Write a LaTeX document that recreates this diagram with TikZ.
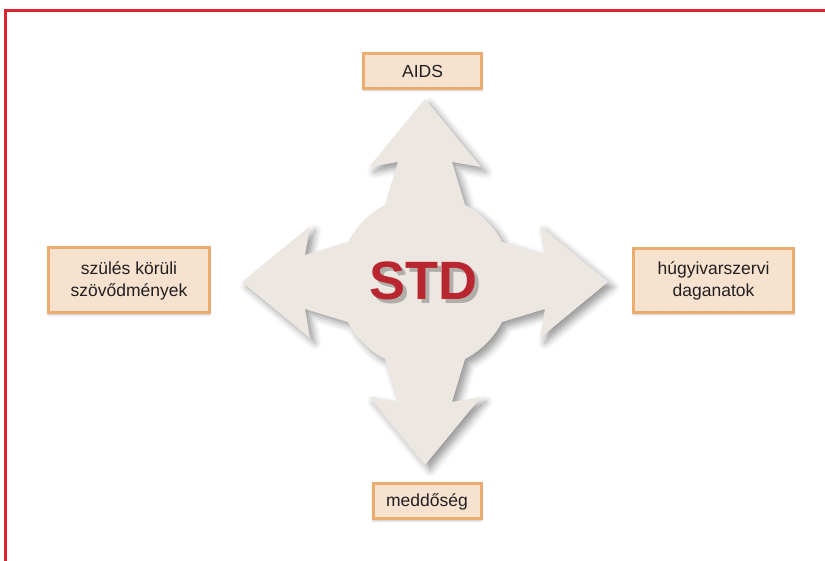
\documentclass[tikz,border=0pt]{standalone}
\usepackage{fontspec}
\setmainfont{Liberation Sans}
\usetikzlibrary{shadows.blur}
\definecolor{myframe}{RGB}{218,37,48}
\definecolor{myarrow}{RGB}{237,231,226}
\definecolor{myboxfill}{RGB}{246,226,207}
\definecolor{myboxline}{RGB}{236,172,112}
\definecolor{mytext}{RGB}{35,31,32}
\definecolor{mystd}{RGB}{185,38,48}

\begin{document}
\begin{tikzpicture}[x=1pt,y=1pt,
  mybox/.style={draw=myboxline,fill=myboxfill,line width=3pt,align=center,
    text=mytext,font=\fontsize{17.5}{22}\selectfont,inner sep=0pt,
    blur shadow={shadow xshift=0pt,shadow yshift=-2pt,shadow blur radius=2pt,shadow opacity=25}}]
  \useasboundingbox (0,0) rectangle (825,561);
  % frame
  \draw[myframe,line width=3pt] (5,-3) -- (5,550) -- (828,550);
  % four-way arrow
  \begin{scope}[shift={(425,279)}]
    \fill[myarrow,blur shadow={shadow xshift=5pt,shadow yshift=-5pt,shadow blur radius=7pt,shadow opacity=40}]
      ([rotate=0]77,-40)
      \foreach \a in {0,90,180,270} {
        -- ([rotate=\a]120,-27) -- ([rotate=\a]115,-56) -- ([rotate=\a]183,0)
        -- ([rotate=\a]115,56) -- ([rotate=\a]120,27) -- ([rotate=\a]77,40)
        arc[start angle=\a+27.45,delta angle=35.1,radius=86.8]}
      -- cycle;
  \end{scope}
  \node[text=black,opacity=0.25,anchor=base,font=\fontsize{54}{54}\selectfont\bfseries] at (427,257) {STD};
  \node[text=mystd,anchor=base,font=\fontsize{54}{54}\selectfont\bfseries] (std) at (423,261) {STD};
  % outcome boxes
  \node[mybox,minimum width=118,minimum height=35] (aids) at (422.5,490) {AIDS};
  \node[mybox,minimum width=161,minimum height=65] (szules) at (129,280.5) {szülés körüli\\szövődmények};
  \node[mybox,minimum width=160,minimum height=64] (hugy) at (713.5,280.5) {húgyivarszervi\\daganatok};
  \node[mybox,minimum width=108,minimum height=35] (medd) at (427,59.5) {meddőség};
\end{tikzpicture}
\end{document}
